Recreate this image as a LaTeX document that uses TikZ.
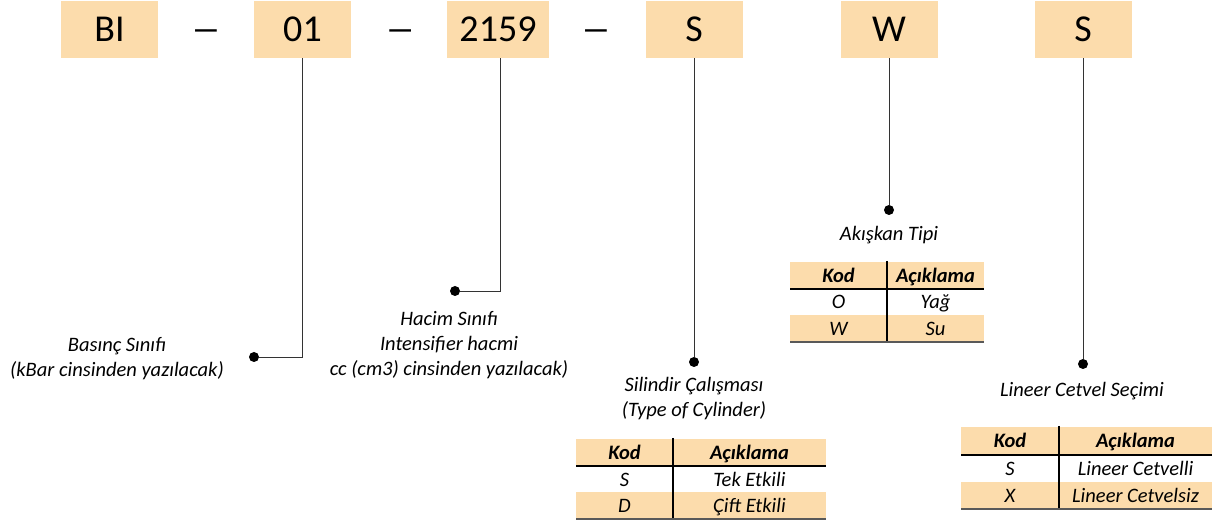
\documentclass[tikz,border=0pt]{standalone}
\usepackage{fontspec}
\setmainfont{Carlito}
\usetikzlibrary{positioning,calc}
\definecolor{peach}{RGB}{252,220,172}
\definecolor{rulegray}{RGB}{89,89,89}
\begin{document}
\begin{tikzpicture}[x=1pt,y=-1pt,
		codebox/.style={fill=peach,minimum width=97pt,minimum height=57pt,inner sep=0pt,font=\fontsize{38}{40}\selectfont},
		sep/.style={anchor=base,inner sep=0pt,font=\fontsize{38}{40}\selectfont},
		dot/.style={circle,fill=black,inner sep=0pt,minimum size=10pt},
		conn/.style={black!80,line width=0.8pt},
		lbl/.style={align=center,inner sep=0pt,font=\fontsize{20.5}{25}\selectfont\itshape},
		head/.style={anchor=base,inner sep=0pt,font=\fontsize{20.5}{24}\selectfont\bfseries\itshape},
		cell/.style={anchor=base,inner sep=0pt,font=\fontsize{20.5}{24}\selectfont\itshape},
		hline/.style={black,line width=1.6pt},
		bline/.style={rulegray,line width=2.6pt}]
		\useasboundingbox (0,0) rectangle (1216,526);
		\node[codebox] (bi) at (109.5,29.5) {BI};
		\node[codebox] (pres) at (302.5,29.5) {01};
		\node[codebox,minimum width=102pt] (vol) at (498,29.5) {2159};
		\node[codebox] (cyl) at (694,29.5) {S};
		\node[codebox] (fluid) at (889,29.5) {W};
		\node[codebox] (ruler) at (1083,29.5) {S};
		\node[sep] (dash1) at ($(bi.base)!0.5!(pres.base)$) {\scalebox{1.6}[1]{–}};
		\node[sep] (dash2) at ($(pres.base)!0.5!(vol.base)$) {\scalebox{1.6}[1]{–}};
		\node[sep] (dash3) at ($(vol.base)!0.5!(cyl.base)$) {\scalebox{1.6}[1]{–}};
		\node[dot] (presdot) at (254,357) {};
		\node[dot] (voldot) at (455,291) {};
		\node[dot] (cyldot) at (694,362) {};
		\node[dot] (fluiddot) at (889,210) {};
		\node[dot] (rulerdot) at (1083,364) {};
		\draw[conn] (pres.south) |- (presdot);
		\draw[conn] ([xshift=2pt]vol.south) |- (voldot);
		\draw[conn] (cyl.south) -- (cyldot);
		\draw[conn] (fluid.south) -- (fluiddot);
		\draw[conn] (ruler.south) -- (rulerdot);
		\node[lbl] (preslbl) at (117,359) {Basınç Sınıfı\\(kBar cinsinden yazılacak)};
		\node[lbl] (vollbl) at (449,345) {Hacim Sınıfı\\Intensifier hacmi\\cc (cm3) cinsinden yazılacak)};
		\node[lbl] (cyllbl) at (694,398.5) {Silindir Çalışması\\(Type of Cylinder)};
		\node[lbl] (fluidlbl) at (889,235) {Akışkan Tipi};
		\node[lbl] (rulerlbl) at (1082,391) {Lineer Cetvel Seçimi};
		\fill[peach] (576,439) rectangle (826,466);
		\fill[peach] (576,492) rectangle (826,519);
		\draw[hline] (576,466) -- (826,466);
		\draw[hline] (673,438) -- (673,519);
		\draw[bline] (576,519) -- (826,519);
		\node[head] (cylkod) at (624.5,459.5) {Kod};
		\node[head] (cylack) at (749.5,459.5) {Açıklama};
		\node[cell] (cylk1) at (624.5,486) {S};
		\node[cell] (cyla1) at (749.5,486) {Tek Etkili};
		\node[cell] (cylk2) at (624.5,512.5) {D};
		\node[cell] (cyla2) at (749.5,512.5) {Çift Etkili};
		\fill[peach] (790,262) rectangle (984,289);
		\fill[peach] (790,315) rectangle (984,342);
		\draw[hline] (790,289) -- (984,289);
		\draw[hline] (887,261) -- (887,342);
		\draw[bline] (790,342) -- (984,342);
		\node[head] (fluidkod) at (838.5,282.5) {Kod};
		\node[head] (fluidack) at (935.5,282.5) {Açıklama};
		\node[cell] (fluidk1) at (838.5,309) {O};
		\node[cell] (fluida1) at (935.5,309) {Yağ};
		\node[cell] (fluidk2) at (838.5,335.5) {W};
		\node[cell] (fluida2) at (935.5,335.5) {Su};
		\fill[peach] (961,427) rectangle (1212,455);
		\fill[peach] (961,482) rectangle (1212,509);
		\draw[hline] (961,455) -- (1212,455);
		\draw[hline] (1059,426) -- (1059,509);
		\draw[bline] (961,509) -- (1212,509);
		\node[head] (rulerkod) at (1010,448) {Kod};
		\node[head] (rulerack) at (1135.5,448) {Açıklama};
		\node[cell] (rulerk1) at (1010,475.5) {S};
		\node[cell] (rulera1) at (1135.5,475.5) {Lineer Cetvelli};
		\node[cell] (rulerk2) at (1010,502.5) {X};
		\node[cell] (rulera2) at (1135.5,502.5) {Lineer Cetvelsiz};
	\end{tikzpicture}
\end{document}
